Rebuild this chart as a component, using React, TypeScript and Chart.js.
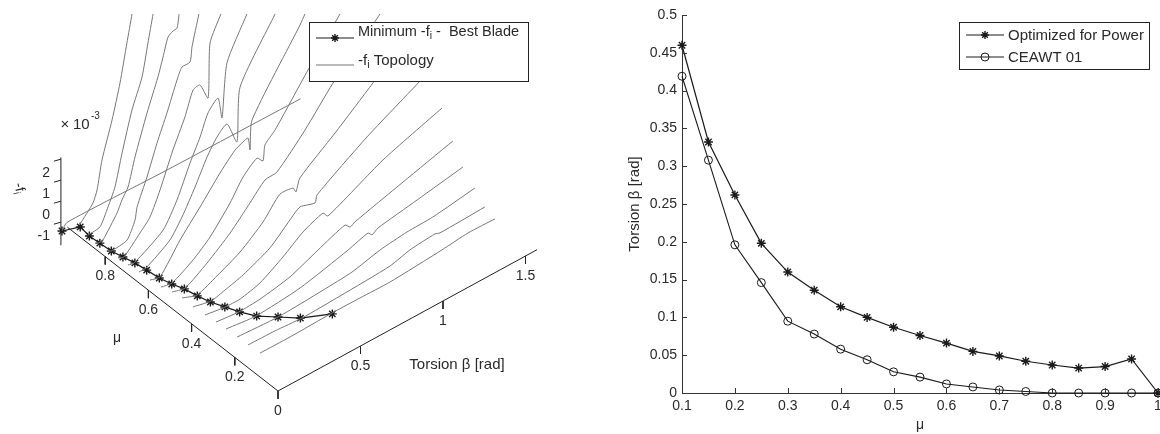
import React, { useEffect, useRef } from "react";
import { Chart, registerables } from "chart.js";

Chart.register(...registerables);

const FONT = '"Liberation Sans", Arial, sans-serif';
const TEXT = "#2a2a2a";
const LINE = "#1a1a1a";
const GREY = "#777777";

// ---- right panel data
const muValues = [0.1, 0.15, 0.2, 0.25, 0.3, 0.35, 0.4, 0.45, 0.5, 0.55, 0.6, 0.65, 0.7, 0.75, 0.8, 0.85, 0.9, 0.95, 1];
const optimizedTorsion = [0.46, 0.332, 0.262, 0.198, 0.16, 0.136, 0.114, 0.1, 0.087, 0.076, 0.066, 0.055, 0.049, 0.042, 0.037, 0.033, 0.035, 0.045, 0];
const ceawtTorsion = [0.419, 0.308, 0.196, 0.146, 0.095, 0.078, 0.058, 0.044, 0.028, 0.021, 0.012, 0.008, 0.004, 0.002, 0, 0, 0, 0, 0];
const rightXTicks = [0.1, 0.2, 0.3, 0.4, 0.5, 0.6, 0.7, 0.8, 0.9, 1];
const rightYTicks = [0, 0.05, 0.1, 0.15, 0.2, 0.25, 0.3, 0.35, 0.4, 0.45, 0.5];

// ---- left panel data: f (x 1e-3) at the best blade, and the topology [beta, f] per mu
const bestBladeF = [-0.1, -0.15, -0.2, -0.28, -0.32, -0.38, -0.45, -0.5, -0.51, -0.63, -0.7, -0.68, -0.71, -0.8, -0.89, -0.9, -0.97, -0.98, -1.38];

const topoMu10 = [[0.022, -0.09], [0.204, -0.1], [0.458, -0.05], [0.628, -0.06], [0.81, -0.08], [1.125, 0.1], [1.282, 0.23], [1.446, 0.2]];
const topoMu15 = [[0.015, -0.07], [0.178, -0.1], [0.342, -0.19], [0.572, -0.13], [0.875, 0], [0.996, 0.25], [1.148, 0.36], [1.178, 0.28], [1.45, 0.35]];
const topoMu20 = [[0.013, -0.09], [0.262, -0.2], [0.535, -0.09], [0.71, 0.02], [0.88, 0.34], [1.044, 0.5], [1.2, 0.54], [1.455, 0.83]];
const topoMu25 = [[0.012, -0.1], [0.194, -0.26], [0.461, -0.07], [0.752, 0.49], [0.873, 0.78], [0.897, 0.59], [0.933, 0.76], [1.17, 1.08], [1.448, 1.46]];
const topoMu30 = [[0.017, -0.19], [0.156, -0.3], [0.284, -0.24], [0.465, 0.04], [0.635, 0.59], [0.799, 1.08], [0.83, 0.85], [0.859, 0.97], [1.15, 1.62], [1.453, 2.28]];
const topoMu35 = [[0.016, -0.25], [0.137, -0.39], [0.228, -0.4], [0.349, -0.15], [0.488, 0.49], [0.61, 1.16], [0.731, 1.54], [0.761, 1.27], [1.094, 2.51], [1.452, 3.45]];
const topoMu40 = [[0.008, -0.23], [0.118, -0.42], [0.202, -0.26], [0.312, -0.01], [0.475, 0.58], [0.596, 1.39], [0.657, 1.75], [0.748, 1.55], [0.76, 1.88], [1.063, 3.34], [1.373, 4.58], [1.475, 5]];
const topoMu45 = [[0.007, -0.2], [0.098, -0.45], [0.219, -0.06], [0.359, 0.48], [0.498, 1.31], [0.601, 2.2], [0.68, 2.15], [0.698, 1.89], [0.722, 2.45], [0.935, 3.68], [1.165, 5.08], [1.267, 5.73]];
const topoMu50 = [[0.012, -0.34], [0.091, -0.49], [0.224, 0.13], [0.364, 0.96], [0.485, 1.88], [0.576, 2.58], [0.648, 2.65], [0.818, 3.92], [0.988, 5.43], [1.127, 6.41], [1.273, 7.5]];
const topoMu55 = [[0.011, -0.5], [0.078, -0.59], [0.205, -0.04], [0.308, 0.61], [0.429, 1.71], [0.508, 2.61], [0.593, 3.15], [0.629, 2.86], [0.641, 3.57], [0.702, 4.02], [0.902, 6.02], [1.096, 7.86]];
const topoMu60 = [[0.01, -0.56], [0.07, -0.67], [0.192, 0.57], [0.313, 1.62], [0.434, 2.72], [0.525, 3.42], [0.573, 3.6], [0.604, 3.66], [0.616, 3.04], [0.628, 4.41], [0.919, 7.69], [0.949, 8.09]];
const topoMu65 = [[0.008, -0.57], [0.051, -0.56], [0.196, 0.15], [0.269, 0.93], [0.348, 2.02], [0.421, 3.14], [0.481, 3.83], [0.542, 4.19], [0.602, 3.08], [0.621, 5.61], [0.833, 8.18]];
const topoMu70 = [[0.007, -0.63], [0.044, -0.7], [0.22, 0.12], [0.304, 1.19], [0.383, 2.61], [0.444, 3.59], [0.492, 4.53], [0.553, 4.98], [0.577, 3.93], [0.607, 6.42], [0.728, 8.23]];
const topoMu75 = [[0.012, -0.72], [0.048, -0.82], [0.145, -0.1], [0.206, 0.4], [0.267, 1.43], [0.345, 3], [0.418, 4.26], [0.467, 5.33], [0.509, 5.39], [0.558, 4.56], [0.57, 7.13], [0.636, 8.23]];
const topoMu80 = [[0.011, -0.73], [0.035, -0.89], [0.132, -0.78], [0.181, -0.03], [0.193, 0.53], [0.253, 1.7], [0.314, 3.06], [0.374, 4.23], [0.435, 5.54], [0.465, 6.03], [0.514, 6.06], [0.526, 6.73], [0.568, 8.12]];
const topoMu85 = [[0.01, -0.8], [0.028, -0.87], [0.052, -0.83], [0.137, 0.09], [0.167, 0.58], [0.204, 1.04], [0.246, 2.29], [0.319, 4.07], [0.385, 5.5], [0.416, 6.32], [0.446, 7.14], [0.476, 7.3], [0.501, 7.34], [0.513, 7.95]];
const topoMu90 = [[0.027, -0.89], [0.099, -0.81], [0.148, -0.07], [0.19, 0.7], [0.233, 2.13], [0.293, 3.92], [0.354, 5.23], [0.39, 6.7], [0.421, 7.95]];
const topoMu95 = [[0.044, -0.84], [0.122, -0.17], [0.147, 0.34], [0.177, 1.64], [0.238, 3.29], [0.286, 4.84], [0.328, 6.57], [0.359, 7.81]];
const topoMu100 = [[0, -1.38], [0.03, -1.1], [0.6, -1.2], [1.445, -1.28]];

const topologyCurves = [
  { mu: 0.1, pts: topoMu10 }, { mu: 0.15, pts: topoMu15 }, { mu: 0.2, pts: topoMu20 }, { mu: 0.25, pts: topoMu25 },
  { mu: 0.3, pts: topoMu30 }, { mu: 0.35, pts: topoMu35 }, { mu: 0.4, pts: topoMu40 }, { mu: 0.45, pts: topoMu45 },
  { mu: 0.5, pts: topoMu50 }, { mu: 0.55, pts: topoMu55 }, { mu: 0.6, pts: topoMu60 }, { mu: 0.65, pts: topoMu65 },
  { mu: 0.7, pts: topoMu70 }, { mu: 0.75, pts: topoMu75 }, { mu: 0.8, pts: topoMu80 }, { mu: 0.85, pts: topoMu85 },
  { mu: 0.9, pts: topoMu90 }, { mu: 0.95, pts: topoMu95 }, { mu: 1, pts: topoMu100 },
];

const muAxisTicks = [0, 0.2, 0.4, 0.6, 0.8];
const betaAxisTicks = [0.5, 1, 1.5];
const fAxisTicks = [-1, 0, 1, 2];

// ---- 3D view projection (mu, beta, f) -> plane of the left panel
const view = { ox: 278, oy: 391, muX: -216, muY: -168, betaX: 165, betaY: -90, fY: -21, floor: -1 };
const project = (mu: number, beta: number, f: number) => ({
  x: view.ox + view.muX * mu + view.betaX * beta,
  y: view.oy + view.muY * mu + view.betaY * beta + view.fY * (f - view.floor),
});

type Run = { t: string; sub?: boolean };
function drawRuns(ctx: CanvasRenderingContext2D, runs: Run[], x: number, y: number, size: number) {
  let cx = x;
  for (const r of runs) {
    ctx.font = `${r.sub ? size * 0.72 : size}px ${FONT}`;
    ctx.fillText(r.t, cx, r.sub ? y + 4 : y);
    cx += ctx.measureText(r.t).width;
  }
}
function text(ctx: CanvasRenderingContext2D, s: string, x: number, y: number, size: number, align: CanvasTextAlign = "center") {
  ctx.font = `${size}px ${FONT}`;
  ctx.textAlign = align;
  ctx.textBaseline = "middle";
  ctx.fillStyle = TEXT;
  ctx.fillText(s, x, y);
}
function legendBox(ctx: CanvasRenderingContext2D, x0: number, y0: number, x1: number, y1: number) {
  ctx.fillStyle = "#fff";
  ctx.strokeStyle = "#222";
  ctx.lineWidth = 1;
  ctx.fillRect(x0, y0, x1 - x0, y1 - y0);
  ctx.strokeRect(x0 + 0.5, y0 + 0.5, x1 - x0, y1 - y0);
}
function sample(ctx: CanvasRenderingContext2D, x0: number, x1: number, y: number, color: string, marker?: "star" | "circle") {
  ctx.strokeStyle = color;
  ctx.lineWidth = 1;
  ctx.beginPath();
  ctx.moveTo(x0, y);
  ctx.lineTo(x1, y);
  ctx.stroke();
  const mx = (x0 + x1) / 2;
  if (marker === "star") {
    ctx.lineWidth = 1.4;
    ctx.beginPath();
    for (let i = 0; i < 4; i++) {
      const a = (i * Math.PI) / 4;
      ctx.moveTo(mx - 4 * Math.cos(a), y - 4 * Math.sin(a));
      ctx.lineTo(mx + 4 * Math.cos(a), y + 4 * Math.sin(a));
    }
    ctx.stroke();
  }
  if (marker === "circle") {
    ctx.beginPath();
    ctx.arc(mx, y, 4, 0, Math.PI * 2);
    ctx.stroke();
  }
}

const leftOverlay = {
  id: "leftOverlay",
  afterDraw(chart: any) {
    const ctx = chart.ctx as CanvasRenderingContext2D;
    const px = chart.scales.x;
    const py = chart.scales.y;
    const at = (mu: number, beta: number, f: number) => {
      const p = project(mu, beta, f);
      return { x: px.getPixelForValue(p.x), y: py.getPixelForValue(p.y) };
    };
    ctx.save();
    const size = 14;
    for (const m of muAxisTicks) {
      const p = at(m, 0, view.floor);
      text(ctx, m === 0 ? "0" : String(m), p.x, p.y + 20, size);
    }
    for (const b of betaAxisTicks) {
      const p = at(0, b, view.floor);
      text(ctx, String(b), p.x, p.y + 20, size);
    }
    for (const f of fAxisTicks) {
      const p = at(1, 0, f);
      text(ctx, String(f), p.x - 12, p.y + 13, size, "right");
    }
    text(ctx, "×", 65, 125, 15);
    text(ctx, "10", 73, 125, 15, "left");
    text(ctx, "-3", 91, 116, 10, "left");
    text(ctx, "μ", 117, 338, 14);
    text(ctx, "Torsion β [rad]", 457, 365, 15);

    ctx.save();
    ctx.translate(18, 183);
    ctx.rotate((77 * Math.PI) / 180);
    ctx.textAlign = "left";
    ctx.textBaseline = "middle";
    ctx.fillStyle = TEXT;
    drawRuns(ctx, [{ t: "-f" }, { t: "i", sub: true }], 0, 0, 14);
    ctx.restore();

    legendBox(ctx, 309, 22, 528, 81);
    sample(ctx, 316, 354, 38, LINE, "star");
    sample(ctx, 316, 354, 65, GREY);
    ctx.textAlign = "left";
    ctx.textBaseline = "middle";
    ctx.fillStyle = TEXT;
    drawRuns(ctx, [{ t: "Minimum -f" }, { t: "i", sub: true }, { t: " -  Best Blade" }], 358, 32, 14.5);
    drawRuns(ctx, [{ t: "-f" }, { t: "i", sub: true }, { t: " Topology" }], 358, 61, 15);
    ctx.restore();
  },
};

const rightOverlay = {
  id: "rightOverlay",
  afterDraw(chart: any) {
    const ctx = chart.ctx as CanvasRenderingContext2D;
    const { x: sx, y: sy } = chart.scales;
    ctx.save();
    ctx.strokeStyle = "#333";
    ctx.lineWidth = 1;
    ctx.beginPath();
    for (const t of rightXTicks) {
      const p = Math.round(sx.getPixelForValue(t)) + 0.5;
      ctx.moveTo(p, sy.bottom);
      ctx.lineTo(p, sy.bottom - 5);
    }
    for (const t of rightYTicks) {
      const p = Math.round(sy.getPixelForValue(t)) + 0.5;
      ctx.moveTo(sx.left, p);
      ctx.lineTo(sx.left + 5, p);
    }
    ctx.stroke();
    legendBox(ctx, 333, 22, 523, 69);
    sample(ctx, 340, 378, 35, LINE, "star");
    sample(ctx, 340, 378, 57, LINE, "circle");
    ctx.textAlign = "left";
    ctx.textBaseline = "middle";
    ctx.fillStyle = TEXT;
    drawRuns(ctx, [{ t: chart.data.datasets[0].label }], 382, 36, 15);
    drawRuns(ctx, [{ t: chart.data.datasets[1].label }], 382, 58, 15);
    ctx.restore();
  },
};

function toPlane(mu: number, pts: number[][]) {
  return pts.map(([b, f]) => project(mu, b, f));
}

export default function App() {
  const leftRef = useRef<HTMLCanvasElement>(null);
  const rightRef = useRef<HTMLCanvasElement>(null);

  useEffect(() => {
    const floor = view.floor;
    const axisStyle = { borderColor: "#222", borderWidth: 1, pointRadius: 0, showLine: true, tension: 0, fill: false };
    const tickSeg = (p: { x: number; y: number }, dx: number, dy: number) => [p, { x: p.x + dx, y: p.y + dy }];
    const axisSets: any[] = [
      { label: "mu axis", data: [project(0, 0, floor), project(0.975, 0, floor)], ...axisStyle },
      { label: "beta axis", data: [project(0, 0, floor), project(0, 1.57, floor)], ...axisStyle },
      { label: "f axis", data: [project(1.005, 0, -2.1), project(1.005, 0, 2.08)], ...axisStyle },
      ...muAxisTicks.map((m) => ({ label: "mu tick", data: tickSeg(project(m, 0, floor), 0, 8), ...axisStyle })),
      ...betaAxisTicks.map((b) => ({ label: "beta tick", data: tickSeg(project(0, b, floor), 0, 8), ...axisStyle })),
      ...fAxisTicks.map((f) => ({ label: "f tick", data: tickSeg(project(1.005, 0, f), -7, 2), ...axisStyle })),
    ];
    const topoSets: any[] = topologyCurves.map((c) => ({
      label: "-fi Topology",
      data: toPlane(c.mu, c.pts),
      borderColor: GREY,
      borderWidth: 1,
      pointRadius: 0,
      showLine: true,
      tension: 0.2,
    }));
    const bestSet: any = {
      label: "Minimum -fi - Best Blade",
      data: muValues.map((m, i) => project(m, optimizedTorsion[i], bestBladeF[i])),
      borderColor: LINE,
      borderWidth: 1.2,
      pointStyle: "star",
      pointRadius: 4.5,
      pointBorderColor: LINE,
      pointBorderWidth: 1.4,
      showLine: true,
      tension: 0,
    };

    const left = new Chart(leftRef.current!, {
      type: "scatter",
      data: { datasets: [...axisSets, ...topoSets, bestSet] },
      options: {
        animation: false,
        responsive: false,
        events: [],
        layout: { padding: 0, autoPadding: false },
        plugins: { legend: { display: false }, tooltip: { enabled: false } },
        scales: {
          x: { type: "linear", min: 0, max: 580, display: false },
          y: { type: "linear", min: 0, max: 434, reverse: true, display: false },
        },
      },
      plugins: [leftOverlay],
    } as any);

    const tickColor = TEXT;
    const right = new Chart(rightRef.current!, {
      type: "scatter",
      data: {
        datasets: [
          {
            label: "Optimized for Power",
            data: muValues.map((m, i) => ({ x: m, y: optimizedTorsion[i] })),
            borderColor: LINE,
            borderWidth: 1.2,
            pointStyle: "star",
            pointRadius: 4.5,
            pointBorderColor: LINE,
            pointBorderWidth: 1.4,
            showLine: true,
            tension: 0,
            clip: false,
          },
          {
            label: "CEAWT 01",
            data: muValues.map((m, i) => ({ x: m, y: ceawtTorsion[i] })),
            borderColor: LINE,
            borderWidth: 1.1,
            pointStyle: "circle",
            pointRadius: 4,
            pointBackgroundColor: "rgba(0,0,0,0)",
            pointBorderColor: LINE,
            pointBorderWidth: 1,
            showLine: true,
            tension: 0,
            clip: false,
          },
        ],
      },
      options: {
        animation: false,
        responsive: false,
        events: [],
        layout: { padding: { top: 15, right: 2, left: 0, bottom: 0 }, autoPadding: false },
        plugins: { legend: { display: false }, tooltip: { enabled: false } },
        scales: {
          x: {
            type: "linear",
            min: 0.1,
            max: 1,
            afterBuildTicks: (s: any) => { s.ticks = rightXTicks.map((value) => ({ value })); },
            afterFit: (s: any) => { s.height = 41; s.paddingLeft = 0; s.paddingRight = 0; },
            border: { color: "#333", width: 1 },
            grid: { display: false, drawTicks: false },
            ticks: { color: tickColor, font: { family: FONT, size: 14 }, maxRotation: 0, padding: 5, callback: (v: any) => String(+(+v).toFixed(2)) },
            title: { display: true, text: "μ", color: tickColor, font: { family: FONT, size: 14 }, padding: { top: 2, bottom: 0 } },
          },
          y: {
            type: "linear",
            min: 0,
            max: 0.5,
            afterBuildTicks: (s: any) => { s.ticks = rightYTicks.map((value) => ({ value })); },
            afterFit: (s: any) => { s.width = 56; s.paddingTop = 0; s.paddingBottom = 0; },
            border: { color: "#333", width: 1 },
            grid: { display: false, drawTicks: false },
            ticks: { color: tickColor, font: { family: FONT, size: 14 }, padding: 5, callback: (v: any) => String(+(+v).toFixed(2)) },
            title: { display: true, text: "Torsion β [rad]", color: tickColor, font: { family: FONT, size: 15 }, padding: 0 },
          },
        },
      },
      plugins: [rightOverlay],
    } as any);

    return () => {
      left.destroy();
      right.destroy();
    };
  }, []);

  return (
    <div style={{ position: "absolute", left: 0, top: 0, width: 1160, height: 434, background: "#fff", overflow: "hidden" }}>
      <canvas ref={leftRef} width={580} height={434} style={{ position: "absolute", left: 0, top: 0, width: 580, height: 434 }} />
      <canvas ref={rightRef} width={534} height={434} style={{ position: "absolute", left: 626, top: 0, width: 534, height: 434 }} />
    </div>
  );
}
